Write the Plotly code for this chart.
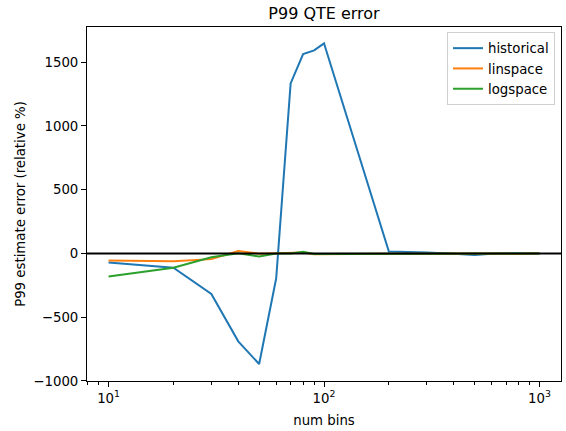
import plotly.graph_objects as go

# ---- data ----
num_bins = [10, 20, 30, 40, 50, 60, 70, 80, 90, 100, 200, 300, 400, 500, 600, 700, 800, 900, 1000]
historical = [-72, -113, -318, -690, -868, -195, 1333, 1563, 1593, 1648, 15, 8, -3, -13, -2, 0, -2, 0, 0]
linspace = [-55, -62, -45, 19, -2, 0, 0, 7, -6, -5, -3, -2, 0, 0, 0, -3, -5, 0, 0]
logspace = [-182, -112, -30, 2, -24, 0, 0, 12, -5, -5, -3, -2, 0, 0, 0, 0, 0, 0, 0]

series_names = ["historical", "linspace", "logspace"]
series_colors = ["#1f77b4", "#ff7f0e", "#2ca02c"]

x_major_ticks = [10, 100, 1000]
x_major_text = ["10<sup>1</sup>", "10<sup>2</sup>", "10<sup>3</sup>"]
x_minor_ticks = [8, 9, 20, 30, 40, 50, 60, 70, 80, 90, 200, 300, 400, 500, 600, 700, 800, 900]
y_ticks = [-1000, -500, 0, 500, 1000, 1500]
reference_level = 0

FONT = "DejaVu Sans"

fig = go.Figure()
for name, vals, col in zip(series_names, [historical, linspace, logspace], series_colors):
    fig.add_trace(go.Scatter(x=num_bins, y=vals, mode="lines", name=name,
                             line=dict(color=col, width=2)))

fig.add_hline(y=reference_level, line=dict(color="black", width=2), layer="above")

fig.update_layout(
    width=566, height=431,
    margin=dict(l=87, r=5, t=27, b=50, autoexpand=False),
    paper_bgcolor="white", plot_bgcolor="white",
    font=dict(family=FONT, size=13.3, color="black"),
    title=dict(text="P99 QTE error", x=0.5, xref="paper", xanchor="center",
               y=1 - 13 / 431, yanchor="middle", automargin=False,
               font=dict(size=16, family=FONT, color="black")),
    legend=dict(x=(555 - 87) / 474, xanchor="right", y=(380.5 - 32) / 353.5, yanchor="top",
                bgcolor="rgba(255,255,255,0.8)", bordercolor="#d0d0d0", borderwidth=1,
                font=dict(size=13.3, family=FONT), tracegroupgap=0, itemwidth=30),
    showlegend=True,
)

fig.update_xaxes(
    type="log", range=[0.9, 3.1], automargin=False,
    tickmode="array", tickvals=x_major_ticks, ticktext=x_major_text,
    ticks="outside", ticklen=5, tickwidth=1, tickcolor="black",
    minor=dict(tickmode="array", tickvals=x_minor_ticks, ticks="outside", ticklen=3,
               tickwidth=1, tickcolor="black", showgrid=False),
    showline=True, linecolor="black", linewidth=1, mirror=True,
    showgrid=False, zeroline=False,
    title=dict(text="num bins", font=dict(size=13.3, family=FONT), standoff=10),
)
fig.update_yaxes(
    range=[-1001, 1776], automargin=False,
    tickmode="array", tickvals=y_ticks,
    ticks="outside", ticklen=5, tickwidth=1, tickcolor="black",
    showline=True, linecolor="black", linewidth=1, mirror=True,
    showgrid=False, zeroline=False,
    title=dict(text="P99 estimate error (relative %)", font=dict(size=13.3, family=FONT), standoff=4),
)

fig.write_html("out.html", config={"displayModeBar": False},
               post_script="document.body.style.margin='0';document.body.style.overflow='hidden';")
